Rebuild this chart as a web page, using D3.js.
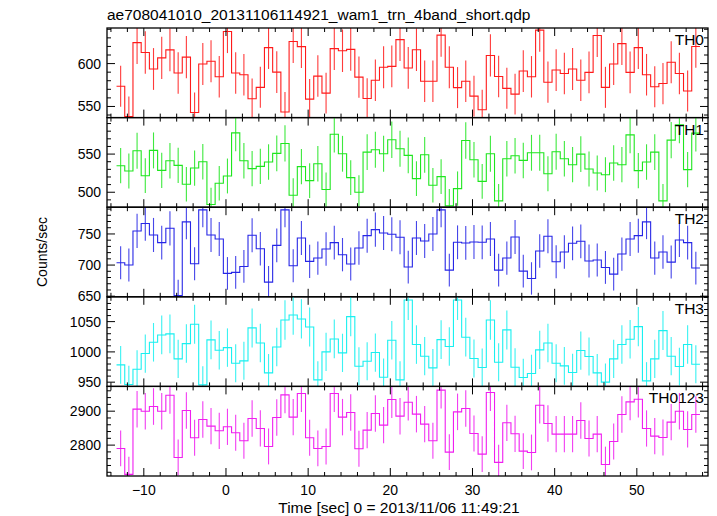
<!DOCTYPE html>
<html><head><meta charset="utf-8">
<script src="https://cdn.jsdelivr.net/npm/d3@7"></script>
<style>body{margin:0;background:#fff}svg{display:block}</style>
</head><body>
<svg id="c" width="717" height="516"></svg>
<script>
const title = "ae708041010_20131106114921_wam1_trn_4band_short.qdp";
const xLabel = "Time [sec] 0 = 2013/11/06 11:49:21";
const yLabel = "Counts/sec";
const panelNames = ["TH0", "TH1", "TH2", "TH3", "TH0123"];
const binStart = -13.32;   // left edge of first 1-s bin
const binWidth = 1;
const xDomain = [-14.48, 58.66];
const xMajorTicks = [-10, 0, 10, 20, 30, 40, 50];

const th0 = [573.5,538.3,624.5,613,593.7,606.7,616,589,607.5,543,599.6,602.8,584.6,637.5,589,587,559,572.3,618.6,590,543.5,625.7,619.8,558.5,585.4,565.6,617.4,615,616.6,584.2,559.3,580.6,595.7,596.8,628,594.9,616.2,579.4,579.4,633.2,595.7,572,579.4,562,546.2,609.5,585,571.1,564.4,591.3,584.6,639,578.3,592.5,588.5,593.7,580.6,589.7,632.8,572.3,599.6,623.3,589.7,618.6,587,573,576.7,601.6,588.5,568,620];
const th1 = [534.8,527.8,554.3,521.7,554.8,528.7,541.3,535.2,510.4,531.7,540,483.9,511.7,521.3,577.8,541.3,530.9,533.9,539.6,550.9,563.9,496.1,533.5,515.2,537.4,503.5,576,550.4,519.1,500,552.6,555.7,550.4,568.7,557,548.3,517.8,549.1,509.1,520.4,482.2,504.8,567.8,542.6,514.3,550.4,488.7,543.9,547.8,541.7,551.7,551.7,524.3,553,543.9,536.1,550,530.4,525.2,523,538.3,536.1,575.2,528.3,539.6,552.6,488.7,568.3,588.3,529.6,577.4];
const th2 = [703.8,700,754.8,766.7,748.4,736,759.1,651,769.4,702.2,788.7,748.4,741.9,686.6,688.2,697.8,747.8,726.3,672.6,731.7,788.7,698.9,743.5,705.9,711.3,725.8,736,716.7,701.6,727.4,747.3,757,751.6,749.5,744.6,696.8,743.5,738.7,750,788.7,691.9,736.6,735.5,737.1,736.6,741.9,691.9,711.3,745.2,690.3,678.5,722.6,746.2,705.4,721,735,738.2,706.5,708.1,696.2,685.5,717.7,741.9,747.3,769.4,711.3,721,704.8,740.3,736,695.2];
const th3 = [978.6,946.2,971.4,997.3,1015.9,1028,1029.7,988.5,1013.7,1045.6,945.6,1019.8,1002.7,1007.1,981.3,985.2,1039.6,1014.8,965.4,1008.2,1052.7,1061,1054.4,1041.2,953.8,1000,1021.4,998.4,1058.2,976.4,984.6,998.9,958.2,1019.2,953.8,1085.7,1012.1,992.9,973.6,1020.3,1008.8,1085.7,1024.2,989,974.2,1052.7,983,1036.3,974.7,957.7,964.3,1003.3,1014.8,981.3,976.9,965.9,1002.2,992.3,965.4,950,988.5,1012.1,1020.9,1041.8,952.2,988.5,1035.2,992.9,975.8,1012.1,979.7];
const th0123 = [2790.2,2713.7,2905.9,2900,2913.7,2900,2947,2763.7,2902,2821.6,2875.5,2855.9,2842.2,2853.9,2836.3,2812.7,2878.4,2849,2796.1,2881.4,2948,2882.4,2952,2821.6,2790.2,2796.1,2952,2882.4,2896.1,2789.2,2844.1,2893.1,2858.8,2934.3,2885.3,2926.5,2891.2,2861.8,2812.7,2962,2779.4,2898,2907.8,2834.3,2773.5,2954.9,2749,2865.7,2833.3,2782.4,2778.4,2917.6,2863.7,2832.4,2832.4,2832.4,2872.5,2819.6,2832.4,2743.1,2810.8,2890.2,2927.5,2935.3,2849,2826.5,2822.5,2867.6,2900,2846.1,2890.2];

const yDomains = [[537, 641.5], [480.4, 597.8], [649, 793], [943, 1091], [2709, 2973]];
const yMajorTicks = [[550, 600], [500, 550], [650, 700, 750], [950, 1000, 1050], [2800, 2900]];
const yMinorStep = [10, 10, 10, 10, 20];

const seriesValues = [th0, th1, th2, th3, th0123];
const colors = ["#ff1a1a", "#1ee61e", "#2626e6", "#19f0f0", "#f01ef0"];

const svg = d3.select("#c");
const L = 107, R = 708, T = 28, B = 476;
const nP = 5, pH = (B - T) / nP;
const x = d3.scaleLinear().domain(xDomain).range([L, R]);
const font = "'Liberation Sans', Arial, Helvetica, sans-serif";

svg.append("text").attr("x", L).attr("y", 20).attr("font-family", font)
  .attr("font-size", 15.5).attr("fill", "#000").text(title);

const xMinor = d3.range(-14, 59, 2).filter(v => v % 10 !== 0);
const defs = svg.append("defs");

seriesValues.forEach((vals, i) => {
  const top = T + i * pH, bot = top + pH;
  const y = d3.scaleLinear().domain(yDomains[i]).range([bot, top]);
  const g = svg.append("g");
  defs.append("clipPath").attr("id", "clip" + i).append("rect")
    .attr("x", L).attr("y", top).attr("width", R - L).attr("height", pH);
  const data = vals.map((v, k) => ({ t0: binStart + k * binWidth, v, e: Math.sqrt(v * binWidth) / binWidth }));
  const pts = data.map(d => [d.t0, d.v]);
  pts.push([binStart + vals.length * binWidth, vals[vals.length - 1]]);
  const line = d3.line().x(d => x(d[0])).y(d => y(d[1])).curve(d3.curveStepAfter);
  const pg = g.append("g").attr("clip-path", `url(#clip${i})`);
  pg.selectAll("line.err").data(data).enter().append("line")
    .attr("x1", d => x(d.t0 + binWidth / 2)).attr("x2", d => x(d.t0 + binWidth / 2))
    .attr("y1", d => y(d.v - d.e)).attr("y2", d => y(d.v + d.e))
    .attr("stroke", colors[i]).attr("stroke-width", 1.1).attr("opacity", 0.85);
  pg.append("path").attr("d", line(pts)).attr("fill", "none")
    .attr("stroke", colors[i]).attr("stroke-width", 1.1);

  const tk = g.append("g").attr("stroke", "#000").attr("stroke-width", 1);
  const yMinor = d3.range(Math.ceil(yDomains[i][0] / yMinorStep[i]) * yMinorStep[i], yDomains[i][1], yMinorStep[i]);
  yMinor.forEach(v => {
    const major = yMajorTicks[i].includes(v);
    const len = major ? 8 : 4;
    tk.append("line").attr("x1", L).attr("x2", L + len).attr("y1", y(v)).attr("y2", y(v));
    tk.append("line").attr("x1", R).attr("x2", R - len).attr("y1", y(v)).attr("y2", y(v));
  });
  xMajorTicks.forEach(v => {
    tk.append("line").attr("x1", x(v)).attr("x2", x(v)).attr("y1", bot).attr("y2", bot - 8);
    tk.append("line").attr("x1", x(v)).attr("x2", x(v)).attr("y1", top).attr("y2", top + 8);
  });
  xMinor.forEach(v => {
    tk.append("line").attr("x1", x(v)).attr("x2", x(v)).attr("y1", bot).attr("y2", bot - 4);
    tk.append("line").attr("x1", x(v)).attr("x2", x(v)).attr("y1", top).attr("y2", top + 4);
  });
  yMajorTicks[i].forEach(v => {
    g.append("text").attr("x", L - 6).attr("y", y(v) + 5).attr("text-anchor", "end")
      .attr("font-family", font).attr("font-size", 14).text(v);
  });
  g.append("text").attr("x", R - 4).attr("y", top + 17).attr("text-anchor", "end")
    .attr("font-family", font).attr("font-size", 15.5).text(panelNames[i]);
  g.append("rect").attr("x", L).attr("y", top).attr("width", R - L).attr("height", pH)
    .attr("fill", "none").attr("stroke", "#000").attr("stroke-width", 1.3);
});

xMajorTicks.forEach(v => {
  svg.append("text").attr("x", x(v)).attr("y", B + 19).attr("text-anchor", "middle")
    .attr("font-family", font).attr("font-size", 14).text(v < 0 ? "\u2212" + Math.abs(v) : v);
});
svg.append("text").attr("x", 399).attr("y", B + 37).attr("text-anchor", "middle")
  .attr("font-family", font).attr("font-size", 15.5).text(xLabel);
svg.append("text").attr("transform", `translate(47,${(T + B) / 2}) rotate(-90)`)
  .attr("text-anchor", "middle").attr("font-family", font).attr("font-size", 14).text(yLabel);
</script>
</body></html>
